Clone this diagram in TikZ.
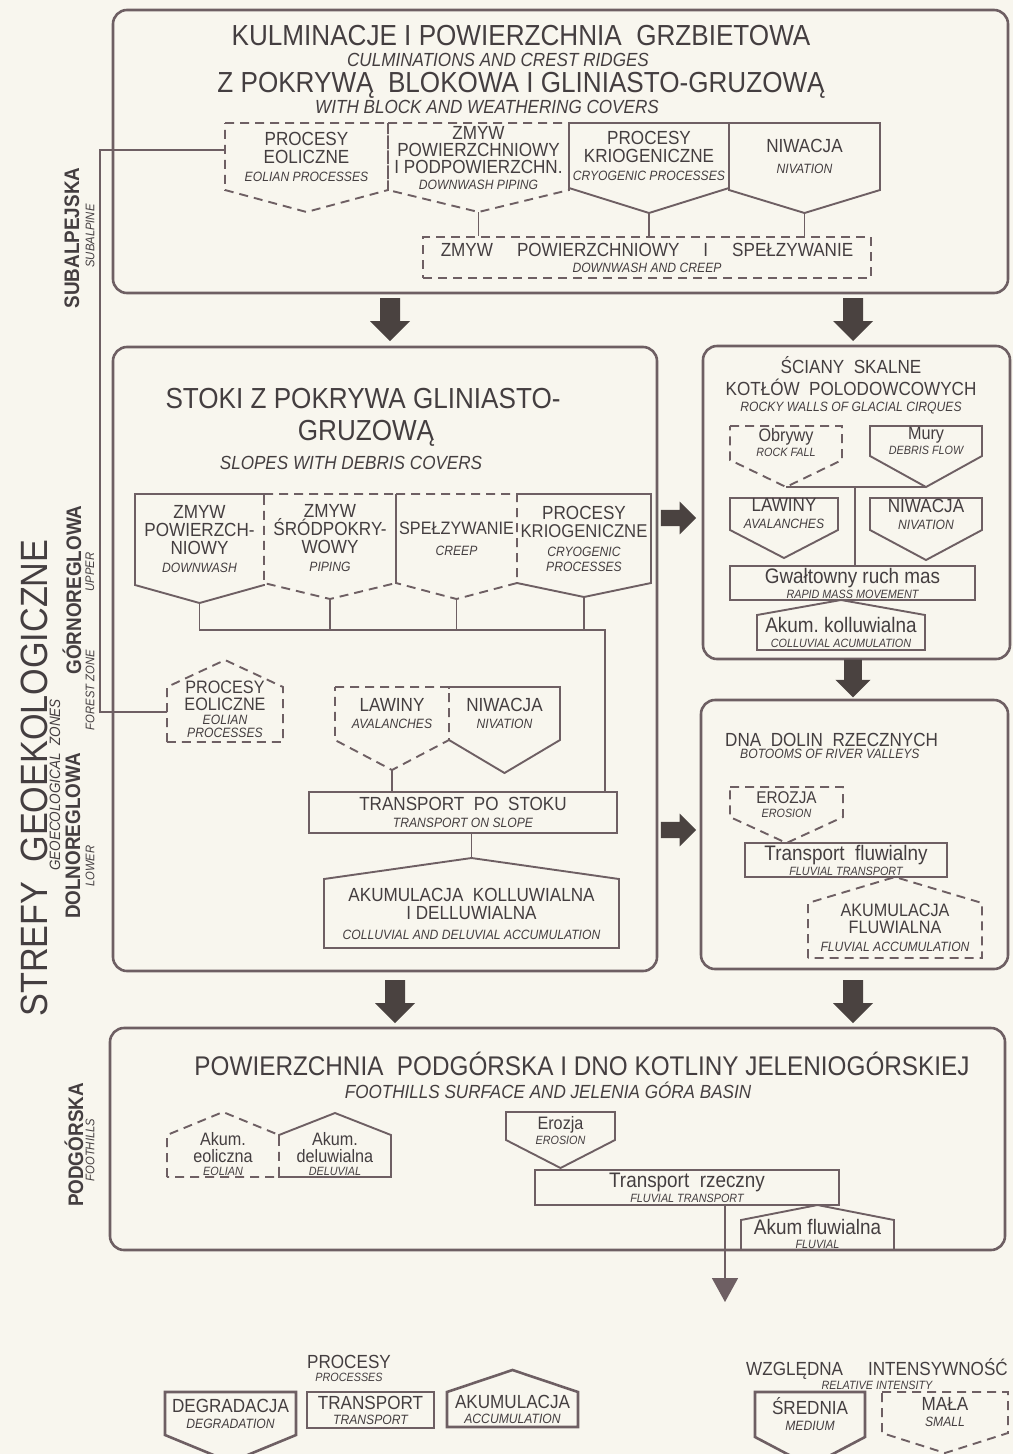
\documentclass[tikz,border=0pt]{standalone}
\usepackage{fontspec}
\setmainfont{Liberation Sans}[FakeStretch=0.9]
\usetikzlibrary{arrows.meta}

\definecolor{paper}{HTML}{F8F6EE}
\definecolor{linec}{HTML}{6E5F63}
\definecolor{inkc}{HTML}{443E40}
\definecolor{flowc}{HTML}{4A4240}

% lettering sizes
\newcommand{\ftitle}{\fontsize{29}{31}\selectfont}
\newcommand{\fsub}{\fontsize{19}{20}\selectfont\itshape}
\newcommand{\fproc}{\fontsize{19}{18}\selectfont}
\newcommand{\fprocsm}{\fontsize{18}{18}\selectfont}
\newcommand{\feng}{\fontsize{13.5}{18}\selectfont\itshape}
\newcommand{\fengsm}{\fontsize{12}{18}\selectfont\itshape}
\newcommand{\fhand}{\fontsize{21}{18}\selectfont}
\newcommand{\fhandsm}{\fontsize{18}{18}\selectfont}
\newcommand{\fzone}{\fontsize{21}{22}\selectfont\bfseries}
\newcommand{\fzoneen}{\fontsize{12.5}{13}\selectfont\itshape}
\newcommand{\fbig}{\fontsize{38}{40}\selectfont}

% process pointing down (degradation): [text shift] name, line, x left, x right, y top, y sides, y tip, text
\newcommand{\degbox}[9][0]{%
  \draw[#3] (#4,#6) -- (#5,#6) -- (#5,#7) -- ({(#4+#5)/2},#8) -- (#4,#7) -- cycle;
  \coordinate (#2-tip) at ({(#4+#5)/2},#8);
  \node[txt] (#2) at ({(#4+#5)/2},{(#6+#7)/2+#1}) {#9};}
% process pointing up (accumulation): [text shift] name, line, x left, x right, y top, y sides, y bottom, text
\newcommand{\accbox}[9][0]{%
  \draw[#3] (#4,#8) -- (#4,#7) -- ({(#4+#5)/2},#6) -- (#5,#7) -- (#5,#8) -- cycle;
  \coordinate (#2-top) at ({(#4+#5)/2},#6);
  \node[txt] (#2) at ({(#4+#5)/2},{(#7+#8)/2+#1}) {#9};}

\begin{document}
\begin{tikzpicture}[x=1pt, y=-1pt,
  zone/.style={draw=linec, line width=2.6pt, rounded corners=14pt, inner sep=0pt},
  procmed/.style={draw=linec, line width=1.9pt, line join=miter},
  procweak/.style={procmed, dash pattern=on 9pt off 6pt},
  legmed/.style={procmed, line width=2.6pt},
  unmark/.style={draw=paper, line width=3.4pt},
  link/.style={draw=linec, line width=1.5pt},
  txt/.style={text=inkc, align=center, inner sep=0pt, font=\fproc},
  rectbox/.style={procmed, txt},
  bigarrow/.pic={\fill[flowc] (-10,-21) -- (10,-21) -- (10,2) -- (20,2) -- (0,22) -- (-20,2) -- (-10,2) -- cycle;},
]
\useasboundingbox (0,0) rectangle (1013,1454);
\fill[paper] (0,0) rectangle (1013,1454);

% zones
\node[zone, minimum width=895, minimum height=283] (subalp) at (560.5,151.5) {};
\node[zone, minimum width=544, minimum height=624] (slopes) at (385,659) {};
\node[zone, minimum width=307, minimum height=313] (cirques) at (856.5,502.5) {};
\node[zone, minimum width=307, minimum height=269] (valleys) at (854.5,834.5) {};
\node[zone, minimum width=895, minimum height=222] (foothills) at (557.5,1139) {};

% zone labels
\node[txt, font=\fbig, rotate=90] (zonesT) at (34,778) {STREFY\ \ GEOEKOLOGICZNE};
\node[txt, font=\fontsize{15}{16}\selectfont\itshape, rotate=90] (zonesE) at (55,785) {GEOECOLOGICAL\ \ ZONES};
\node[txt, font=\fzone, rotate=90] (zsubT) at (72,238) {SUBALPEJSKA};
\node[txt, font=\fzoneen, rotate=90] (zsubE) at (90,236) {SUBALPINE};
\node[txt, font=\fzone, rotate=90] (zupT) at (72,590) {GÓRNOREGLOWA};
\node[txt, font=\fzoneen, rotate=90] (zupE) at (90,572) {UPPER};
\node[txt, font=\fzoneen, rotate=90] (zforE) at (90,690) {FOREST ZONE};
\node[txt, font=\fzone, rotate=90] (zlowT) at (73,836) {DOLNOREGLOWA};
\node[txt, font=\fzoneen, rotate=90] (zlowE) at (90,866) {LOWER};
\node[txt, font=\fzone, rotate=90] (zfootT) at (74,1145) {PODGÓRSKA};
\node[txt, font=\fzoneen, rotate=90] (zfootE) at (90,1150) {FOOTHILLS};

% subalpine zone
\node[txt, font=\ftitle] (subT1) at (521,36) {KULMINACJE I POWIERZCHNIA\ \ GRZBIETOWA};
\node[txt, font=\fsub] (subE1) at (498,60) {CULMINATIONS AND CREST RIDGES};
\node[txt, font=\ftitle] (subT2) at (521,85) {Z POKRYWĄ\ \ BLOKOWA I GLINIASTO-GRUZOWĄ};
\node[txt, font=\fsub] (subE2) at (487,107) {WITH BLOCK AND WEATHERING COVERS};

\degbox{eolA}{procweak}{225}{388}{123}{190}{212}{\fproc PROCESY\\\fproc EOLICZNE\\\feng EOLIAN PROCESSES}
\degbox[1.5]{wash}{procweak}{388}{569}{123}{190}{212}{\fproc ZMYW\\[-1pt]\fproc POWIERZCHNIOWY\\[-1pt]\fproc I PODPOWIERZCHN.\\[-2pt]\feng DOWNWASH PIPING}
\degbox{cryo}{procmed}{569}{729}{123}{188}{213}{\fproc PROCESY\\\fproc KRIOGENICZNE\\\feng CRYOGENIC PROCESSES}
\degbox{niv}{procmed}{729}{880}{123}{190}{213}{\fproc NIWACJA\\[3pt]\feng NIVATION}
\node[rectbox, procweak, minimum width=448, minimum height=41] (creep) at (647,257.5)
  {\fproc ZMYW\hspace{24pt}POWIERZCHNIOWY\hspace{24pt}I\hspace{24pt}SPEŁZYWANIE\\[-2pt]\feng DOWNWASH AND CREEP};
\draw[link] (wash-tip) -- (wash-tip |- creep.north);
\draw[link] (cryo-tip) -- (cryo-tip |- creep.north);
\draw[link] (niv-tip) -- (niv-tip |- creep.north);

% wind processes reach the slopes
\coordinate (eolA-w) at (225,150);
\coordinate (eolB-w) at (167,712);
\draw[link, line width=1.3pt] (eolA-w) -- ++(-125,0) |- (eolB-w);

% flows between zones
\pic (a1) at (390,319) {bigarrow};
\pic (a2) at (853,319) {bigarrow};
\pic[rotate=90, scale=0.82] (a3) at (678,518) {bigarrow};
\pic[rotate=90, scale=0.82] (a4) at (678,830) {bigarrow};
\pic[scale=0.88] (a5) at (853,678) {bigarrow};
\pic (a6) at (395,1001) {bigarrow};
\pic (a7) at (853,1001) {bigarrow};

% upper forest zone: slopes
\node[txt, font=\ftitle] (slT1) at (363,399) {STOKI Z POKRYWA GLINIASTO-};
\node[txt, font=\ftitle] (slT2) at (366,433) {GRUZOWĄ};
\node[txt, font=\fsub] (slE) at (351,463) {SLOPES WITH DEBRIS COVERS};

\degbox{sdown}{procmed}{135}{264}{494}{585}{603}{\fproc ZMYW\\\fproc POWIERZCH-\\\fproc NIOWY\\\feng DOWNWASH}
\degbox{scryo}{procmed}{517}{651}{494}{583}{597}{\fproc PROCESY\\\fontsize{18.5}{18}\selectfont KRIOGENICZNE\\[1pt]\feng CRYOGENIC\\[-3pt]\feng PROCESSES}
\draw[unmark] (264,496) -- (264,584);
\draw[unmark] (517,496) -- (517,582);
\degbox{spipe}{procweak}{264}{396}{494}{583}{599}{\fproc ZMYW\\\fproc ŚRÓDPOKRY-\\\fproc WOWY\\\feng PIPING}
\degbox{screep}{procweak}{396}{517}{494}{583}{599}{\fprocsm SPEŁZYWANIE\\[3pt]\feng CREEP}

\node[rectbox, minimum width=308, minimum height=41] (slope) at (463,812.5) {\fproc TRANSPORT\ \ PO\ \ STOKU\\[-1pt]\feng TRANSPORT ON SLOPE};
\coordinate (sjoin) at (605,630);
\draw[link] (sdown-tip) |- (sjoin) -- (sjoin |- slope.north);
\foreach \p in {spipe,screep,scryo}
  \draw[link] (\p-tip) -- (\p-tip |- sjoin);

\accbox[-5]{eolB}{procweak}{167}{283}{660}{687}{742}{\fprocsm PROCESY\\[-1pt]\fprocsm EOLICZNE\\[-4pt]\feng EOLIAN\\[-5pt]\feng PROCESSES}
\degbox{nivB}{procmed}{449}{560}{687}{740}{773}{\fproc NIWACJA\\[-1pt]\feng NIVATION}
\draw[unmark] (449,689) -- (449,739);
\degbox{aval}{procweak}{335}{449}{687}{740}{770}{\fproc LAWINY\\[-1pt]\feng AVALANCHES}
\draw[link] (aval-tip) -- (aval-tip |- slope.north);

\accbox{colac}{procmed}{324}{619}{858}{879}{948}{\fproc AKUMULACJA\ \ KOLLUWIALNA\\\fproc I DELLUWIALNA\\[2pt]\feng COLLUVIAL AND DELUVIAL ACCUMULATION}
\draw[link] (colac-top |- slope.south) -- (colac-top);

% cirque walls
\node[txt] (cirT) at (851,385) {\fproc ŚCIANY\ \ SKALNE\\[4pt]\fproc KOTŁÓW\ \ POLODOWCOWYCH\\[-2pt]\feng ROCKY WALLS OF GLACIAL CIRQUES};
\degbox{fall}{procweak}{730}{842}{426}{460}{487}{\fhandsm Obrywy\\[-3pt]\fengsm ROCK FALL}
\degbox{dflow}{procmed}{870}{982}{426}{456}{487}{\fhandsm Mury\\[-3pt]\fengsm DEBRIS FLOW}
\degbox{avalW}{procmed}{730}{838}{498}{530}{558}{\fproc LAWINY\\[-1pt]\feng AVALANCHES}
\degbox{nivW}{procmed}{870}{982}{498}{530}{560}{\fproc NIWACJA\\[-1pt]\feng NIVATION}
\node[rectbox, minimum width=245, minimum height=34] (rapid) at (852.5,583) {\fhand Gwałtowny ruch mas\\[-3pt]\fengsm RAPID MASS MOVEMENT};
\accbox{colW}{procmed}{757}{925}{600}{615}{650}{\fhand Akum.\ kolluwialna\\[-3pt]\fengsm COLLUVIAL ACUMULATION}
\coordinate (wjoin) at (855,487);
\draw[link] (fall-tip) -- (dflow-tip);
\draw[link] (wjoin) -- (wjoin |- rapid.north);

% river valley floors
\node[txt, font=\fproc, anchor=west] (valT) at (725,740) {DNA\ \ DOLIN\ \ RZECZNYCH};
\node[txt, font=\feng, anchor=west] (valE) at (740,754) {BOTOOMS OF RIVER VALLEYS};
\degbox[3]{ero}{procweak}{730}{843}{787}{817}{843}{\fontsize{17}{18}\selectfont EROZJA\\[-4pt]\fengsm EROSION}
\node[rectbox, minimum width=202, minimum height=34] (fluvtr) at (846,860) {\fhand Transport\ \ fluwialny\\[-3pt]\fengsm FLUVIAL TRANSPORT};
\accbox[-3]{fluvac}{procweak}{808}{982}{877}{903}{958}{\fprocsm AKUMULACJA\\[-1pt]\fprocsm FLUWIALNA\\\feng FLUVIAL ACCUMULATION}

% foothills zone
\node[txt, font=\fontsize{27}{29}\selectfont] (footT) at (582,1064) {POWIERZCHNIA\ \ PODGÓRSKA I DNO KOTLINY JELENIOGÓRSKIEJ};
\node[txt, font=\fsub] (footE) at (548,1090) {FOOTHILLS SURFACE AND JELENIA GÓRA BASIN};
\accbox[-2]{delC}{procmed}{279}{391}{1113}{1135}{1177}{\fhandsm Akum.\\[-1pt]\fhandsm deluwialna\\[-5pt]\fengsm DELUVIAL}
\draw[unmark] (279,1137) -- (279,1176);
\accbox[-2]{eolC}{procweak}{167}{279}{1112}{1135}{1177}{\fhandsm Akum.\\[-1pt]\fhandsm eoliczna\\[-5pt]\fengsm EOLIAN}
\degbox[5]{eroC}{procmed}{506}{615}{1112}{1140}{1168}{\fhandsm Erozja\\[-3pt]\fengsm EROSION}
\node[rectbox, minimum width=304, minimum height=35] (river) at (687,1187.5) {\fhand Transport\ \ rzeczny\\[-3pt]\fengsm FLUVIAL TRANSPORT};
\accbox[-1]{fluvC}{procmed}{741}{894}{1205}{1220}{1250}{\fhand Akum\ fluwialna\\[-4pt]\fengsm FLUVIAL}
\coordinate (outlet) at (725,1302);
\draw[link, -{Triangle[width=26pt, length=24pt]}] (river.south -| outlet) -- (outlet);

% legend
\node[txt] (legP) at (349,1368) {\fproc PROCESY\\[-5pt]\fengsm PROCESSES};
\degbox{legdeg}{legmed}{165}{296}{1392}{1435}{1462}{\fproc DEGRADACJA\\[-2pt]\feng DEGRADATION}
\node[rectbox, line width=2.8pt, minimum width=127, minimum height=36] (legtr) at (370.5,1410) {\fproc TRANSPORT\\[-3pt]\feng TRANSPORT};
\accbox{legacc}{legmed}{447}{578}{1370}{1392}{1427}{\fproc AKUMULACJA\\[-3pt]\feng ACCUMULATION}
\node[txt] (legI) at (877,1374) {\fproc WZGLĘDNA\hspace{25pt}INTENSYWNOŚĆ\\[-4pt]\fengsm RELATIVE INTENSITY};
\degbox{legmid}{legmed}{755}{865}{1392}{1437}{1466}{\fproc ŚREDNIA\\[-2pt]\feng MEDIUM}
\degbox{legweak}{procweak}{882}{1008}{1392}{1433}{1453}{\fproc MAŁA\\[-2pt]\feng SMALL}
\end{tikzpicture}
\end{document}
